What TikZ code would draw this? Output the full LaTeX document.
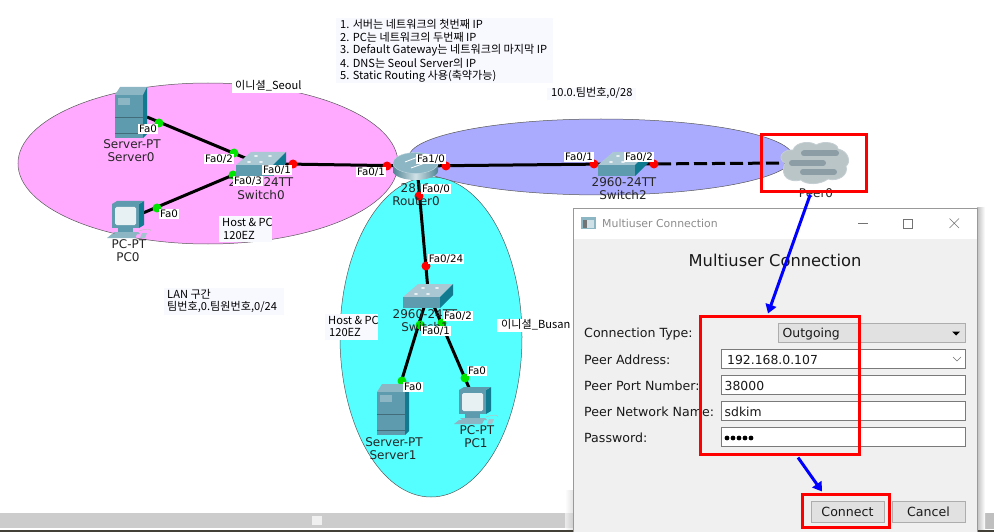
\documentclass[tikz,border=0pt]{standalone}
\usepackage{fontspec}
\setmainfont{DejaVu Sans}
\newfontfamily\krfont{Noto Sans CJK KR}
\usetikzlibrary{arrows.meta,calc}
\definecolor{tealfront}{HTML}{5F9BAE}
\definecolor{tealside}{HTML}{0F7A90}
\definecolor{tealtop}{HTML}{8DB6C4}
\definecolor{paleblue}{HTML}{F8F8FF}
\definecolor{dlgbg}{HTML}{F0F0F0}
\definecolor{btnbg}{HTML}{E1E1E1}
\definecolor{btnedge}{HTML}{ADADAD}
\definecolor{fieldedge}{HTML}{7A7A7A}
\definecolor{cloudbar}{HTML}{8C9DA6}
\definecolor{cloudbody}{HTML}{BAC5C7}
\tikzset{
  zone/.style={draw=black!65,line width=0.5pt},
  link/.style={line width=3pt,black},
  gdot/.style={circle,fill=green!90!black,inner sep=0pt,minimum size=9pt},
  rdot/.style={circle,fill=red,inner sep=0pt,minimum size=9pt},
  plabel/.style={fill=white,inner sep=1pt,font=\fontsize{10.3}{12}\selectfont},
  devlabel/.style={inner sep=0pt,text=black!85,font=\fontsize{12}{14}\selectfont},
  krtext/.style={inner sep=0pt,anchor=west,font=\krfont\fontsize{11.1}{12}\selectfont},
  krbox/.style={fill=paleblue,draw=none},
  redbox/.style={draw=red,line width=3pt},
  bluearrow/.style={draw=blue,line width=3pt,-{Triangle[length=9pt,width=11pt]}},
  formlabel/.style={inner sep=0pt,anchor=west,font=\fontsize{12.6}{14}\selectfont,text=black!90},
  field/.style={draw=fieldedge,fill=white,line width=0.7pt},
  fieldtext/.style={inner sep=0pt,anchor=west,font=\fontsize{12.4}{14}\selectfont,text=black!90},
  btn/.style={draw=btnedge,fill=btnbg,line width=0.7pt,inner sep=0pt,font=\fontsize{12.6}{14}\selectfont,text=black!90}
}
% icons: #1,#2 = top-left corner in px
\newcommand{\servericon}[2]{\begin{scope}[shift={(#1,#2)}]
  \fill[tealtop] (0,8) -- (5,0) -- (32,0) -- (28,8) -- cycle;
  \fill[tealside] (28,8) -- (32,0) -- (32,47) -- (28,51) -- cycle;
  \fill[tealfront] (0,8) rectangle (28,51);
  \fill[tealtop] (3,11) rectangle (15,18);
  \draw[tealfront!70!black,line width=0.4pt] (0,30) -- (28,30) (0,46) -- (28,46);
\end{scope}}
\newcommand{\pcicon}[2]{\begin{scope}[shift={(#1,#2)}]
  \fill[tealside] (32,3) -- (37,0) -- (37,24) -- (32,27) -- cycle;
  \fill[tealfront] (5,3) -- (10,0) -- (37,0) -- (32,3) -- cycle;
  \fill[tealfront] (5,3) rectangle (32,27);
  \fill[white!85!tealfront,rounded corners=1.5pt] (8,6) rectangle (29,24);
  \fill[tealfront] (11,27) rectangle (26,31);
  \fill[tealtop] (6,31) -- (31,31) -- (33,33) -- (8,33) -- cycle;
  \fill[tealtop] (5,33) -- (30,33) -- (28,37) -- (0,37) -- cycle;
  \draw[black!25,line width=0.5pt] (32,30) .. controls (40,27) and (44,28) .. (44,30);
  \fill[tealtop!80!white] (35,32) -- (40,32) -- (38,37) -- (33,37) -- cycle;
\end{scope}}
\newcommand{\switchicon}[3]{\begin{scope}[shift={(#1,#2)}]
  \fill[#3!75!white] (0,13) -- (15,0) -- (50,0) -- (37,13) -- cycle;
  \fill[tealside] (37,13) -- (50,0) -- (50,11) -- (37,24) -- cycle;
  \fill[tealfront] (0,13) rectangle (37,24);
  \foreach \a/\b in {13/10,25/10,20/4,34/4}{\fill[white!80!tealtop] (\a,\b) ellipse (2 and 0.9);}
\end{scope}}
\newcommand{\routericon}[2]{\begin{scope}[shift={(#1,#2)}]
  \shade[left color=tealfront!85!black,right color=tealfront!85!black,middle color=white!70!tealfront] (0,11) -- (0,19) arc[start angle=180,end angle=0,x radius=22.5,y radius=9] -- (45,11) -- cycle;
  \fill[tealtop,draw=white!60!tealfront,line width=0.4pt] (22.5,11) ellipse (22.5 and 10.5);
  \draw[white,line width=0.8pt] (12,10) -- (25,5) (18,16) -- (32,11);
\end{scope}}
\begin{document}
\begin{tikzpicture}[x=1pt,y=-1pt]
\useasboundingbox (0,0) rectangle (994,532);
\fill[white] (0,0) rectangle (994,532);
% zones
\draw[zone,fill={rgb,255:red,255;green,170;blue,255}] (208,163.5) ellipse (190 and 80.5);
\draw[zone,fill={rgb,255:red,170;green,170;blue,255}] (601,157) ellipse (192 and 38);
\draw[zone,fill={rgb,255:red,85;green,255;blue,255}] (431,337) ellipse (91 and 160);
% link ends
\coordinate (srv0) at (147,117);  \coordinate (sw0a) at (250,160);
\coordinate (pc0) at (143,213);   \coordinate (sw0b) at (245,170);
\coordinate (sw0c) at (285,164);  \coordinate (rt) at (416,166);
\coordinate (rtb) at (418,178);   \coordinate (sw1t) at (428,290);
\coordinate (sw2a) at (610,164);  \coordinate (sw2b) at (640,164);
\coordinate (peer) at (790,163);
\coordinate (sw1a) at (425,304);  \coordinate (srv1) at (399,389);
\coordinate (sw1b) at (433,304);  \coordinate (pc1) at (470,390);
\draw[link] (srv0) -- (sw0a);
\draw[link] (pc0) -- (sw0b);
\draw[link] (sw0c) -- (rt);
\draw[link] (rt) -- (sw2a);
\draw[link] (rtb) -- (sw1t);
\draw[link] (sw1a) -- (srv1);
\draw[link] (sw1b) -- (pc1);
\draw[link,dash pattern=on 13pt off 5pt] (sw2b) -- (peer);
% port dots
\node[gdot] (d1) at (159,123) {};
\node[gdot] (d2) at (234,153) {};
\node[gdot] (d3) at (233,175) {};
\node[gdot] (d4) at (157,208) {};
\node[rdot] (d5) at (293,164) {};
\node[rdot] (d6) at (387,166) {};
\node[rdot] (d7) at (446,166) {};
\node[rdot] (d8) at (594,164) {};
\node[rdot] (d9) at (654,164) {};
\node[rdot] (d10) at (419,196) {};
\node[rdot] (d11) at (426,266) {};
\node[gdot] (d12) at (420,325) {};
\node[gdot] (d13) at (442,323) {};
\node[gdot] (d14) at (402,381) {};
\node[gdot] (d15) at (465,378) {};
% icons
\servericon{115}{87}
\servericon{377}{384}
\pcicon{107}{201}
\pcicon{454}{387}
\switchicon{236}{152}{tealtop}
\switchicon{403}{284}{tealtop}
\switchicon{598}{152}{tealtop}
\routericon{393}{152}
% cloud
\begin{scope}
  \fill[cloudbody,draw=white!50!cloudbar,line width=0.8pt]
    (785,163) .. controls (776,158) and (783,149) .. (793,150)
    .. controls (796,141) and (812,141) .. (816,145)
    .. controls (824,140) and (838,143) .. (838,149)
    .. controls (849,151) and (851,163) .. (846,166)
    .. controls (849,175) and (838,182) .. (828,179)
    .. controls (820,185) and (806,185) .. (801,180)
    .. controls (790,183) and (779,177) .. (785,163) -- cycle;
  \foreach \a/\b/\c in {804/153.5/836,792/163/823,803/172/834}{
    \draw[cloudbar,line width=6pt,line cap=round] (\a,\b) -- (\c,\b);}
\end{scope}
% device labels
\node[devlabel] (n1) at (132,144) {Server-PT};
\node[devlabel] (n2) at (131,157) {Server0};
\node[devlabel] (n3) at (129,244) {PC-PT};
\node[devlabel] (n4) at (128,257) {PC0};
\node[devlabel] (n5) at (261,182) {2960-24TT};
\node[devlabel] (n6) at (261,195) {Switch0};
\node[devlabel] (n7) at (416,188) {2811};
\node[devlabel] (n8) at (416,201) {Router0};
\node[devlabel] (n9) at (624,182) {2960-24TT};
\node[devlabel] (n10) at (623,195) {Switch2};
\node[devlabel] (n11) at (425,314) {2960-24TT};
\node[devlabel] (n12) at (425,327) {Switch1};
\node[devlabel] (n13) at (394,442) {Server-PT};
\node[devlabel] (n14) at (393,455) {Server1};
\node[devlabel] (n15) at (477,430) {PC-PT};
\node[devlabel] (n16) at (476,443) {PC1};
\node[devlabel] (n17) at (816,193) {Peer0};
% port labels
\node[plabel] (p1) at (148,129) {Fa0};
\node[plabel] (p2) at (219,159) {Fa0/2};
\node[plabel] (p3) at (277,170) {Fa0/1};
\node[plabel] (p4) at (248,181) {Fa0/3};
\node[plabel] (p5) at (169,214) {Fa0};
\node[plabel] (p6) at (431,159) {Fa1/0};
\node[plabel] (p7) at (371,172) {Fa0/1};
\node[plabel] (p8) at (436,189) {Fa0/0};
\node[plabel] (p9) at (579,157) {Fa0/1};
\node[plabel] (p10) at (639,157) {Fa0/2};
\node[plabel] (p11) at (446,259) {Fa0/24};
\node[plabel] (p12) at (458,316) {Fa0/2};
\node[plabel] (p13) at (436,331) {Fa0/1};
\node[plabel] (p14) at (413,387) {Fa0};
\node[plabel] (p15) at (477,371) {Fa0};
% annotations
\fill[white] (232,80) rectangle (301,93);
\node[krtext] (t1) at (235,86) {이니셜\_Seoul};
\fill[krbox] (219,216) rectangle (272,242);
\node[krtext] (t2) at (222,222) {Host \& PC};
\node[krtext] (t3) at (223,236) {120EZ};
\fill[krbox] (336,18) rectangle (553,83);
\node[krtext] (t4) at (340,24) {1. 서버는 네트워크의 첫번째 IP};
\node[krtext] (t5) at (340,37) {2. PC는 네트워크의 두번째 IP};
\node[krtext] (t6) at (340,50) {3. Default Gateway는 네트워크의 마지막 IP};
\node[krtext] (t7) at (340,63) {4. DNS는 Seoul Server의 IP};
\node[krtext] (t8) at (340,76) {5. Static Routing 사용(축약가능)};
\fill[krbox] (547,88) rectangle (636,100);
\node[krtext] (t9) at (551,93) {10.0.팀번호,0/28};
\fill[krbox] (164,288) rectangle (284,315);
\node[krtext] (t10) at (167,294) {LAN 구간};
\node[krtext] (t11) at (167,307) {팀번호,0.팀원번호,0/24};
\fill[krbox] (325,314) rectangle (378,340);
\node[krtext] (t12) at (328,320) {Host \& PC};
\node[krtext] (t13) at (329,333) {120EZ};
\fill[white] (497,319) rectangle (569,332);
\node[krtext] (t14) at (501,325) {이니셜\_Busan};
% bottom strip
\fill[black!20] (0,513) rectangle (573,528);
\fill[black!6] (312,516) rectangle (322,525);
\fill[white!75!black] (978,513) rectangle (994,529);
\fill[black!75!yellow!60!black] (0,530) rectangle (994,532);
% dialog
\shade[left color=black!25,right color=white] (977,208) rectangle (985,529);
\shade[left color=white,right color=black!18,opacity=0.6] (565,490) rectangle (573,529);
\fill[white] (573,208) rectangle (977,239);
\fill[dlgbg] (573,239) rectangle (977,532);
\draw[black!40,line width=0.7pt] (573,532) -- (573,208) -- (977,208) -- (977,532);
\fill[tealtop] (581,217) rectangle (596,229);
\fill[white!70!tealfront] (583,220) rectangle (594,228);
\fill[black!55] (583,220) rectangle (587,228);
\node[inner sep=0pt,anchor=west,text=black!45,font=\fontsize{10.9}{13}\selectfont] (title) at (602,223.5) {Multiuser Connection};
\draw[black!55,line width=0.6pt] (858,223.5) -- (868,223.5);
\draw[black!55,line width=0.6pt] (903.5,219) rectangle (912,228);
\draw[black!55,line width=0.6pt] (949.5,218.5) -- (959,228) (959,218.5) -- (949.5,228);
\node[inner sep=0pt,font=\fontsize{16.3}{18}\selectfont,text=black!90] (head) at (775,260.5) {Multiuser Connection};
\node[formlabel] (f1) at (584,334) {Connection Type:};
\node[formlabel] (f2) at (584,359.5) {Peer Address:};
\node[formlabel] (f3) at (584,385.5) {Peer Port Number:};
\node[formlabel] (f4) at (584,411.5) {Peer Network Name:};
\node[formlabel] (f5) at (584,437.5) {Password:};
\draw[draw=btnedge,fill=btnbg,line width=0.7pt] (778.5,323.5) rectangle (965.5,342.5);
\node[fieldtext] (v1) at (782.5,334) {Outgoing};
\fill[black] (952,331.5) -- (960,331.5) -- (956,335.5) -- cycle;
\draw[field] (721.5,349.5) rectangle (965.5,368.5);
\node[fieldtext] (v2) at (727,359.5) {192.168.0.107};
\draw[black!55,line width=0.6pt] (953,357) -- (957,361) -- (961,357);
\draw[field] (721.5,375.5) rectangle (965.5,394.5);
\node[fieldtext] (v3) at (724.5,385.5) {38000};
\draw[field] (721.5,401.5) rectangle (965.5,420.5);
\node[fieldtext] (v4) at (724.5,411.5) {sdkim};
\draw[field] (721.5,427.5) rectangle (965.5,446.5);
\foreach \k in {0,1,2,3,4}{\fill[black] ({727+\k*6},438) circle (2.4);}
\node[btn,minimum width=73pt,minimum height=21pt] (connect) at (847.5,511.5) {Connect};
\node[btn,minimum width=73pt,minimum height=21pt] (cancel) at (928.5,511.5) {Cancel};
% highlights
\node[redbox,minimum width=105pt,minimum height=57pt,inner sep=0pt] (peerbox) at (814.25,163) {};
\node[redbox,minimum width=159pt,minimum height=138pt,inner sep=0pt] (formbox) at (780,385.5) {};
\node[redbox,minimum width=87pt,minimum height=33pt,inner sep=0pt] (connbox) at (846,511) {};
\coordinate (a1) at ($(peerbox.south)+(-4,1.5)$);
\coordinate (a2) at ($(formbox.north)+(-12,-1.5)$);
\coordinate (a3) at ($(formbox.south)+(18,1.5)$);
\coordinate (a4) at ($(connbox.north)+(-24,-1.5)$);
\draw[bluearrow] (a1) -- (a2);
\draw[bluearrow] (a3) -- (a4);
\end{tikzpicture}
\end{document}
